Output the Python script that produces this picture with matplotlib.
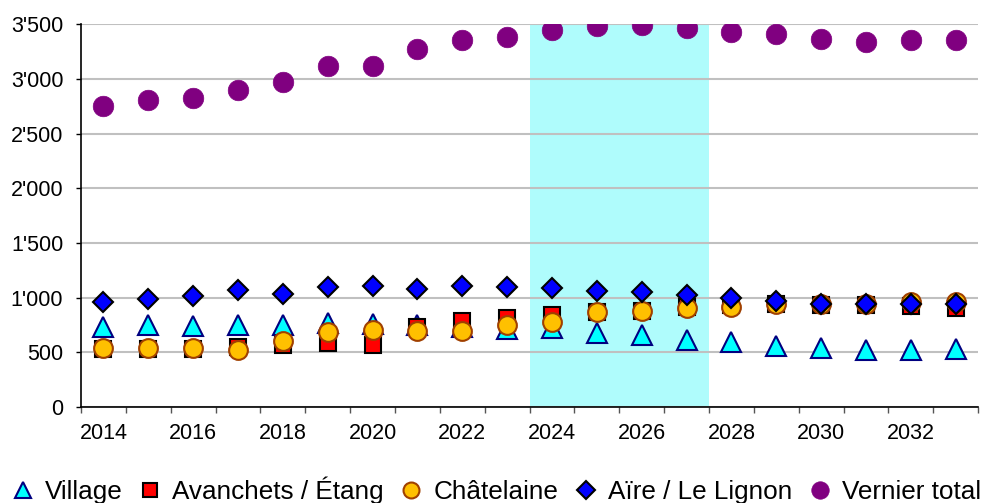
import numpy as np
import matplotlib.pyplot as plt
from matplotlib.ticker import FuncFormatter, FixedLocator

plt.rcParams['font.family'] = ['Liberation Sans', 'DejaVu Sans']

years = list(range(2014, 2034))

# population par quartier
village = [730, 750, 740, 750, 745, 765, 755, 745, 735, 715,
           720, 680, 660, 615, 590, 560, 535, 520, 520, 530]
avanchets = [530, 530, 530, 550, 570, 580, 565, 735, 785, 810,
             845, 870, 880, 915, 930, 940, 935, 935, 920, 900]
chatelaine = [535, 540, 535, 520, 605, 685, 700, 695, 695, 750,
              780, 865, 880, 900, 910, 945, 945, 945, 955, 960]
aire = [955, 985, 1015, 1065, 1035, 1095, 1110, 1080, 1105, 1095,
        1085, 1060, 1055, 1020, 995, 970, 945, 940, 940, 940]
vernier = [2750, 2810, 2825, 2900, 2970, 3120, 3120, 3270, 3355, 3380,
           3450, 3480, 3490, 3465, 3425, 3410, 3365, 3340, 3355, 3355]

# période mise en évidence
highlight = (2024, 2027)

x = np.arange(len(years))

fig = plt.figure(figsize=(9.82, 5.03), dpi=100)
ax = fig.add_axes([0.0825, 0.191, 0.9135, 0.761])

i0 = years.index(highlight[0])
i1 = years.index(highlight[1])
ax.axvspan(i0 - 0.5, i1 + 0.5, color='#AFFCFC', lw=0, zorder=0)

ax.plot(x, village, ls='none', marker='^', ms=14, mfc='#00FFFF',
        mec='#000080', mew=1.5, label='Village', zorder=3)
ax.plot(x, avanchets, ls='none', marker='s', ms=11.5, mfc='#FF0000',
        mec='black', mew=1.5, label='Avanchets / Étang', zorder=4)
ax.plot(x, chatelaine, ls='none', marker='o', ms=13.5, mfc='#FFC000',
        mec='#A04000', mew=1.5, label='Châtelaine', zorder=5)
ax.plot(x, aire, ls='none', marker='D', ms=10.5, mfc='#0000FF',
        mec='black', mew=1.5, label='Aïre / Le Lignon', zorder=6)
ax.plot(x, vernier, ls='none', marker='o', ms=14.8, mfc='#800080',
        mec='#800080', mew=0.5, label='Vernier total', zorder=7)

ax.set_xlim(-0.5, len(years) - 0.5)
ax.set_ylim(0, 3500)
ax.set_yticks(np.arange(0, 3501, 500))
ax.yaxis.set_major_formatter(FuncFormatter(lambda v, p: f"{int(v):,}".replace(',', "'")))
ax.grid(axis='y', color='#C0C0C0', lw=1.5, zorder=1)
ax.set_axisbelow(True)

# ticks between categories, labels on every second year
ax.xaxis.set_major_locator(FixedLocator(np.arange(-0.5, len(years), 1.0)))
ax.xaxis.set_major_formatter(FuncFormatter(lambda v, p: ''))
ax.xaxis.set_minor_locator(FixedLocator(x[::2]))
ax.set_xticklabels([str(y) for y in years[::2]], minor=True)
ax.tick_params(axis='x', which='major', length=4.5, width=1, color='#555555')
ax.tick_params(axis='x', which='minor', length=0, pad=11.5, labelsize=15.5)
ax.tick_params(axis='y', length=3.8, width=1, pad=9, labelsize=15.5)

for s in ['top', 'right']:
    ax.spines[s].set_visible(False)
for s in ['left', 'bottom']:
    ax.spines[s].set_linewidth(1.2)

fig.legend(loc='lower center', bbox_to_anchor=(0.505, -0.034), ncol=5,
           frameon=False, fontsize=18.8, handlelength=0.9, handletextpad=0.4,
           columnspacing=0.6, markerscale=0.85, borderaxespad=0.2)

fig.savefig('out.png', dpi=100)
